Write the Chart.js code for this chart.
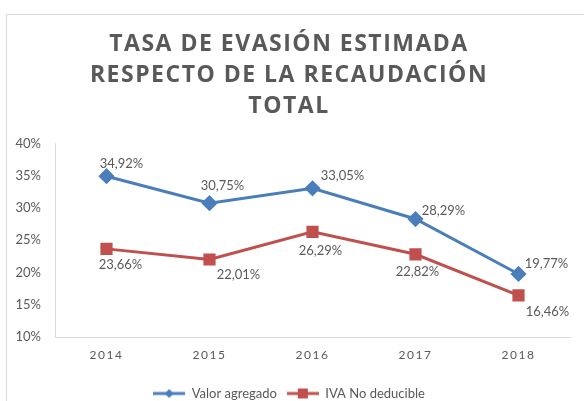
<!DOCTYPE html>
<html>
<head>
<meta charset="utf-8">
<script src="https://cdn.jsdelivr.net/npm/chart.js@4/dist/chart.umd.min.js"></script>
<style>
  html, body { margin: 0; padding: 0; background: #ffffff; overflow: hidden; }
  #wrap { position: relative; width: 584px; height: 401px; overflow: hidden; }
  #frame { position: absolute; left: 6px; top: 14px; width: 600px; height: 420px; border: 1px solid #d9d9d9; }
  #chartBox { position: absolute; left: 0; top: 0; width: 584px; height: 410px; }
</style>
</head>
<body>
<div id="wrap">
  <div id="frame"></div>
  <div id="chartBox"><canvas id="evasionChart"></canvas></div>
</div>
<script>
// ---------- DATA
var years          = ['2014', '2015', '2016', '2017', '2018'];
var valorAgregado  = [34.92, 30.75, 33.05, 28.29, 19.77];
var ivaNoDeducible = [23.66, 22.01, 26.29, 22.82, 16.46];
var seriesNames    = ['Valor agregado', 'IVA No deducible'];
var titleLines     = ['TASA DE EVASIÓN ESTIMADA', 'RESPECTO DE LA RECAUDACIÓN', 'TOTAL'];

var blue = '#4a7ebb';
var red  = '#c0504d';
var textGray = '#595959';

// where each value label sits relative to its point (dx, dy)
var labelOffsets = [
    [[15, -12], [13, -17], [30, -12], [28, -8], [28, -10]],
    [[14, 16], [29, 15], [8, 19], [2, 18], [29, 16]]
];

function fmtPct(v){
    return v.toFixed(2).replace('.', ',') + '%';
}

// legend swatch: line with marker in the middle
function legendSwatch(color, shape){
    var c = document.createElement('canvas');
    c.width = 32; c.height = 12;
    var g = c.getContext('2d');
    g.strokeStyle = color;
    g.lineWidth = 3;
    g.beginPath(); g.moveTo(0, 6); g.lineTo(32, 6); g.stroke();
    g.fillStyle = color;
    if (shape == 'rect'){
        g.fillRect(11, 1, 10, 10);
    } else {
        g.beginPath();
        g.moveTo(16, 1.5); g.lineTo(20.5, 6); g.lineTo(16, 10.5); g.lineTo(11.5, 6);
        g.closePath(); g.fill();
    }
    return c;
}
var swatches = [legendSwatch(blue, 'diamond'), legendSwatch(red, 'rect')];

var valueLabels = {
    id: 'valueLabels',
    afterDatasetsDraw: function(chart){
        var ctx = chart.ctx;
        ctx.save();
        ctx.letterSpacing = '0px';
        ctx.font = '13px Lato, "Liberation Sans", sans-serif';
        ctx.fillStyle = textGray;
        ctx.textAlign = 'center';
        ctx.textBaseline = 'middle';
        chart.data.datasets.forEach(function(ds, i){
            var meta = chart.getDatasetMeta(i);
            meta.data.forEach(function(pt, j){
                var off = labelOffsets[i][j];
                ctx.fillText(fmtPct(ds.data[j]), pt.x + off[0], pt.y + off[1]);
            });
        });
        ctx.restore();
    }
};

function withoutSpacing(obj, fnName){
    if (!obj || obj['_ns_' + fnName]) return;
    var orig = obj[fnName];
    obj[fnName] = function(){
        var c = this.ctx;
        var old = c.letterSpacing;
        c.letterSpacing = '0px';
        orig.apply(this, arguments);
        c.letterSpacing = old;
    };
    obj['_ns_' + fnName] = true;
}

// spaced-out lettering for title and year labels only
var spacing = {
    id: 'spacing',
    afterUpdate: function(chart){
        withoutSpacing(chart.scales.y, 'drawLabels');
        withoutSpacing(chart.legend, 'draw');
    },
    beforeDraw: function(chart){ chart.ctx.letterSpacing = '1.5px'; },
    beforeDatasetsDraw: function(chart){ chart.ctx.letterSpacing = '0px'; }
};

var ctx = document.getElementById('evasionChart').getContext('2d');
var myChart = new Chart(ctx, {
    type: 'line',
    data: {
        labels: years,
        datasets: [{
            label: seriesNames[0],
            data: valorAgregado,
            borderColor: blue,
            backgroundColor: blue,
            borderWidth: 3,
            pointStyle: 'rectRot',
            pointRadius: 6,
            pointHoverRadius: 6,
            tension: 0
        },
        {
            label: seriesNames[1],
            data: ivaNoDeducible,
            borderColor: red,
            backgroundColor: red,
            borderWidth: 3,
            pointStyle: 'rect',
            pointRadius: 6.5,
            pointHoverRadius: 6.5,
            tension: 0
        }]
    },
    options: {
        responsive: true,
        maintainAspectRatio: false,
        animation: false,
        layout: { padding: { left: 8, right: 14, top: 0, bottom: 0 } },
        plugins: {
            tooltip: { enabled: false },
            title: {
                display: true,
                text: titleLines,
                color: textGray,
                font: { family: '"Open Sans", "DejaVu Sans", sans-serif', size: 23, weight: 'bold', lineHeight: 1.34 },
                padding: { top: 29, bottom: 22 }
            },
            legend: {
                position: 'bottom',
                labels: {
                    color: textGray,
                    font: { family: 'Lato, "Liberation Sans", sans-serif', size: 13 },
                    usePointStyle: true,
                    pointStyleWidth: 32,
                    padding: 10,
                    generateLabels: function(chart){
                        var items = Chart.defaults.plugins.legend.labels.generateLabels(chart);
                        items.forEach(function(it, i){ it.pointStyle = swatches[i]; });
                        return items;
                    }
                }
            }
        },
        scales: {
            x: {
                offset: true,
                grid: { display: false, drawTicks: false, offset: true },
                border: { display: true, color: '#d9d9d9', width: 1 },
                ticks: {
                    color: textGray,
                    padding: 11,
                    font: { family: 'Lato, "Liberation Sans", sans-serif', size: 12 }
                },
                afterFit: function(scale){ scale.height = 40; }
            },
            y: {
                min: 10,
                max: 40,
                grid: { display: false, drawTicks: false },
                border: { display: true, color: '#d9d9d9', width: 1 },
                ticks: {
                    stepSize: 5,
                    color: textGray,
                    padding: 14,
                    font: { family: 'Lato, "Liberation Sans", sans-serif', size: 13 },
                    callback: function(v){ return v + '%'; }
                },
                afterFit: function(scale){ scale.width = 47; }
            }
        }
    },
    plugins: [spacing, valueLabels]
});
</script>
</body>
</html>
